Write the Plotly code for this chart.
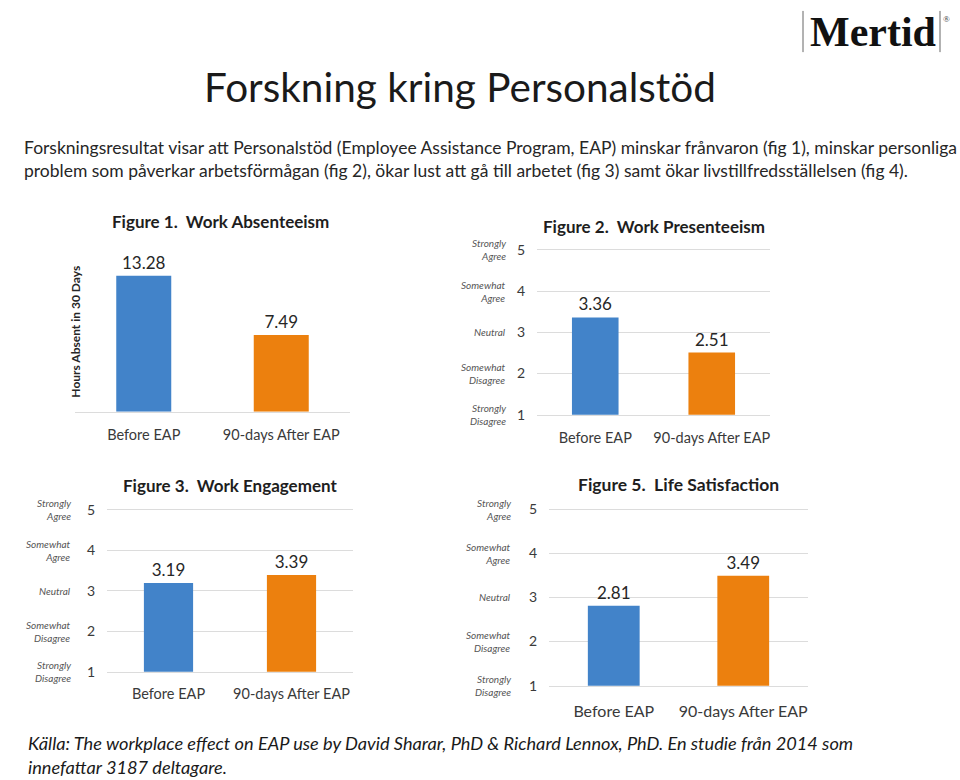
import plotly.graph_objects as go

# ---------------- data ----------------
categories = ["Before EAP", "90-days After EAP"]
fig1_values = [13.28, 7.49]
fig2_values = [3.36, 2.51]
fig3_values = [3.19, 3.39]
fig5_values = [2.81, 3.49]
fig_titles = ["Figure 1.  Work Absenteeism", "Figure 2.  Work Presenteeism",
              "Figure 3.  Work Engagement", "Figure 5.  Life Satisfaction"]
likert_ticks = [1, 2, 3, 4, 5]
likert_labels = ["Strongly<br>Disagree", "Somewhat<br>Disagree", "Neutral",
                 "Somewhat<br>Agree", "Strongly<br>Agree"]
fig1_ytitle = "Hours Absent in 30 Days"

slide_title = "Forskning kring Personalstöd"
intro_text = ("Forskningsresultat visar att Personalstöd (Employee Assistance Program, EAP) minskar frånvaron (fig 1), minskar personliga<br>"
              "problem som påverkar arbetsförmågan (fig 2), ökar lust att gå till arbetet (fig 3) samt ökar livstillfredsställelsen (fig 4).")
source_text = ("Källa: The workplace effect on EAP use by David Sharar, PhD &amp; Richard Lennox, PhD. En studie från 2014 som<br>"
               "innefattar 3187 deltagare.")

# ---------------- styling ----------------
W, H = 960, 780
BLUE = "#4283c9"
ORANGE = "#ec800e"
GRID = "#dcdcdc"
FONT = "Lato"
TXT = "#3a3a3a"


def dx(px):
    return px / W


def dy(px):
    return 1 - px / H


fig = go.Figure()

# (x0, x1, ytop, ybottom) pixel boxes for each plot area
panels = [
    dict(vals=fig1_values, box=(75, 350, 256.0, 412.7), rng=[0, 15], likert=False,
         title_y=219, catsize=14.5, standoff=10, tsize=17),
    dict(vals=fig2_values, box=(537, 770, 245.6, 415.7), rng=[1, 5.05], likert=True,
         title_y=224, catsize=14.5, standoff=10, tsize=17),
    dict(vals=fig3_values, box=(107, 353, 510.6, 677.7), rng=[1, 5.05], likert=True,
         title_y=488, catsize=14.5, standoff=9, tsize=17),
    dict(vals=fig5_values, box=(549, 808, 509.75, 692.0), rng=[1, 5.05], likert=True,
         title_y=487, catsize=16, standoff=11, tsize=17.5),
]

for i, p in enumerate(panels):
    n = i + 1
    xa = "x" if n == 1 else f"x{n}"
    ya = "y" if n == 1 else f"y{n}"
    x0, x1, yt, yb = p["box"]
    fig.add_trace(go.Bar(
        x=categories, y=p["vals"], xaxis=xa, yaxis=ya,
        marker=dict(color=[BLUE, ORANGE], line=dict(width=0)),
        width=0.4,
        text=[f"{v:.2f}" for v in p["vals"]], textposition="outside",
        textfont=dict(family=FONT, size=17, color="#262626"),
        cliponaxis=False, showlegend=False, hoverinfo="skip",
    ))
    xkey = "xaxis" if n == 1 else f"xaxis{n}"
    ykey = "yaxis" if n == 1 else f"yaxis{n}"
    fig.layout[xkey] = dict(
        domain=[dx(x0), dx(x1)], anchor=ya, range=[-0.5, 1.5],
        showline=True, linecolor=GRID, linewidth=1, ticks="",
        tickfont=dict(family=FONT, size=p["catsize"], color=TXT),
        ticklabelstandoff=p["standoff"], showgrid=False, fixedrange=True,
    )
    if p["likert"]:
        fig.layout[ykey] = dict(
            domain=[dy(yb), dy(yt)], anchor=xa, range=p["rng"],
            tickvals=likert_ticks, showgrid=True, gridcolor=GRID, gridwidth=1,
            zeroline=False, showline=False, ticks="",
            tickfont=dict(family=FONT, size=14, color=TXT),
            ticklabelstandoff=11, fixedrange=True,
        )
        width_px = x1 - x0
        off = {2: 29, 3: 34, 4: 36}[n]
        for tv, lab in zip(likert_ticks, likert_labels):
            fig.add_annotation(
                xref=f"{xa} domain", yref=ya, x=-off / width_px, y=tv,
                text=f"<i>{lab}</i>", showarrow=False, xanchor="right", yanchor="middle",
                align="right", font=dict(family=FONT, size=10, color="#555555"),
            )
    else:
        fig.layout[ykey] = dict(
            domain=[dy(yb), dy(yt)], anchor=xa, range=p["rng"],
            showgrid=False, zeroline=False, showticklabels=False, ticks="",
            fixedrange=True,
        )
        fig.add_annotation(
            xref="paper", yref="paper", x=dx(76), y=dy(331), text=f"<b>{fig1_ytitle}</b>",
            textangle=-90, showarrow=False, xanchor="center", yanchor="middle",
            font=dict(family=FONT, size=12, color="#262626"),
        )
    # panel title
    fig.add_annotation(
        xref="paper", yref="paper", x=dx((x0 + x1) / 2 + (8 if n == 1 else 0)), y=dy(p["title_y"]),
        text=f"<b>{fig_titles[i]}</b>", showarrow=False, xanchor="center", yanchor="middle",
        font=dict(family=FONT, size=p["tsize"], color="#1e1e1e"),
    )

# slide texts
fig.add_annotation(xref="paper", yref="paper", x=dx(460), y=dy(81), text=slide_title,
                   showarrow=False, xanchor="center", yanchor="middle",
                   font=dict(family=FONT, size=40.5, color="#1a1a1a"))
fig.add_annotation(xref="paper", yref="paper", x=dx(22), y=dy(155), text=intro_text,
                   showarrow=False, xanchor="left", yanchor="middle", align="left",
                   font=dict(family=FONT, size=17.5, color="#262626"))
fig.add_annotation(xref="paper", yref="paper", x=dx(26), y=dy(763), text=f"<i>{source_text}</i>",
                   showarrow=False, xanchor="left", yanchor="middle", align="left",
                   font=dict(family=FONT, size=18.2, color="#1a1a1a"))

# Mertid logo
fig.add_annotation(xref="paper", yref="paper", x=dx(873), y=dy(25), text="<b>Mertid</b>",
                   showarrow=False, xanchor="center", yanchor="middle",
                   font=dict(family="Liberation Serif", size=42, color="#111111"))
fig.add_annotation(xref="paper", yref="paper", x=dx(946), y=dy(12), text="®",
                   showarrow=False, xanchor="center", yanchor="middle",
                   font=dict(family="Liberation Serif", size=9, color="#333333"))
for lx in (803, 940):
    fig.add_shape(type="line", xref="paper", yref="paper", x0=dx(lx), x1=dx(lx),
                  y0=dy(4), y1=dy(46), line=dict(color="#666666", width=1))

fig.update_layout(
    width=W, height=H, margin=dict(l=0, r=0, t=0, b=0),
    paper_bgcolor="white", plot_bgcolor="white",
    font=dict(family=FONT), showlegend=False,
)

fig.write_html("out.html", config={"displayModeBar": False},
               post_script="document.body.style.margin='0';document.body.style.padding='0';")
